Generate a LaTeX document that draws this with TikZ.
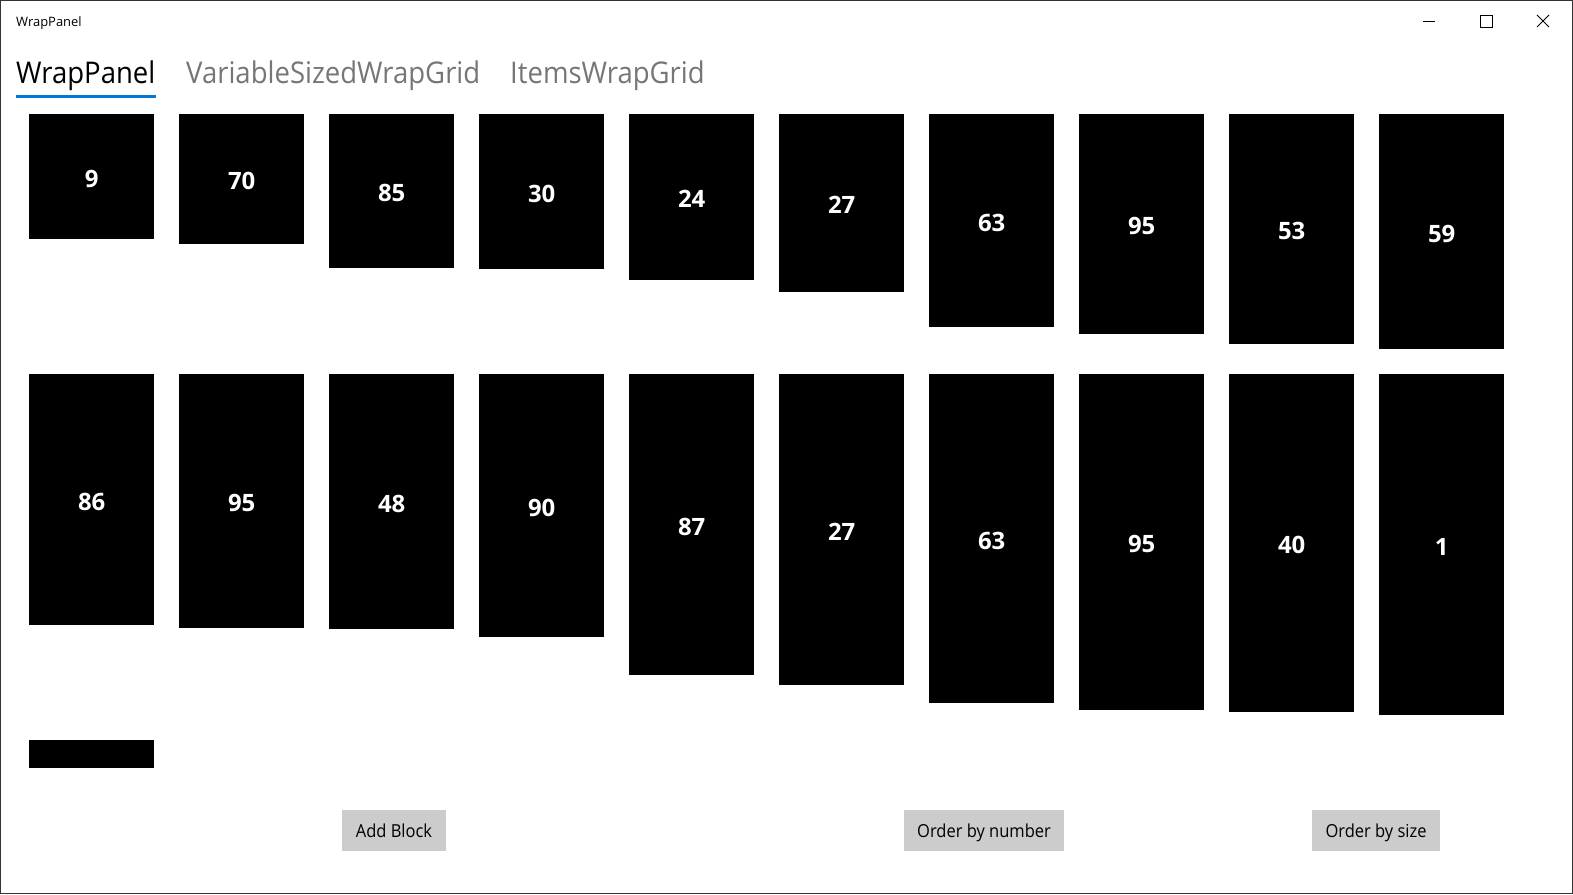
\documentclass[tikz,border=0pt]{standalone}
\usepackage{fontspec}
\setmainfont{Open Sans}
\newfontfamily\narrowfont{Open Sans}[FakeStretch=0.92]
\definecolor{accent}{HTML}{0078D7}
\definecolor{tabgray}{HTML}{767676}
\definecolor{btngray}{HTML}{CCCCCC}
\definecolor{frame}{HTML}{333333}
\tikzset{
    block/.style = {fill=black, text=white, inner sep=0pt, minimum width=125bp,
        anchor=north west, text height=21bp, text depth=0bp,
        font=\fontsize{24}{28}\selectfont\bfseries},
    btn/.style = {fill=btngray, inner sep=0pt, minimum height=41bp, text depth=0bp,
        font=\narrowfont\fontsize{18}{22}\selectfont},
    tab/.style = {anchor=base west, inner sep=0pt, font=\narrowfont\fontsize{30}{36}\selectfont}
}
\begin{document}
\begin{tikzpicture}[x=1bp, y=-1bp]
        \useasboundingbox (0, 0) rectangle (1573, 894);
        \draw [frame] (0.5, 0.5) rectangle (1572.5, 893.5);
        % title bar
        \node [anchor=base west, inner sep=0pt, font=\fontsize{13}{16}\selectfont] (title) at (16, 26) {WrapPanel};
        \draw [line width=1bp] (1423, 21) -- (1435, 21);
        \draw [line width=1bp] (1480, 15) rectangle (1492, 27);
        \draw [line width=1bp] (1537, 15) -- (1549, 27) (1537, 27) -- (1549, 15);
        % tabs
        \node [tab] (tab1) at (16, 83) {WrapPanel};
        \node [tab, text=tabgray] (tab2) at (186, 83) {VariableSizedWrapGrid};
        \node [tab, text=tabgray] (tab3) at (510, 83) {ItemsWrapGrid};
        \fill [accent] (16, 95) rectangle (156, 98);
        % first row
        \foreach \i/\h/\n in {1/125/9, 2/130/70, 3/154/85, 4/155/30, 5/166/24,
                6/178/27, 7/213/63, 8/220/95, 9/230/53, 10/235/59}
            \node [block, minimum height=\h bp] (r1-\i) at (150*\i-121, 114) {\n};
        % second row
        \foreach \i/\h/\n in {1/251/86, 2/254/95, 3/255/48, 4/263/90, 5/301/87,
                6/311/27, 7/329/63, 8/336/95, 9/338/40, 10/341/1}
            \node [block, minimum height=\h bp] (r2-\i) at (150*\i-121, 374) {\n};
        % third row
        \node [block, minimum height=28bp, text height=0bp] (r3-1) at (29, 740) {};
        % buttons
        \node [btn, minimum width=104bp] (add) at (394, 830.5) {Add Block};
        \node [btn, minimum width=160bp] (bynum) at (984, 830.5) {Order by number};
        \node [btn, minimum width=128bp] (bysize) at (1376, 830.5) {Order by size};
    \end{tikzpicture}
\end{document}
